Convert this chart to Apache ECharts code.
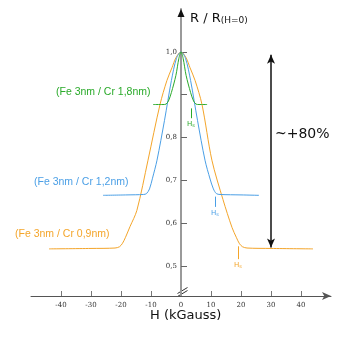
<!DOCTYPE html>
<html>
<head>
<meta charset="utf-8">
<script src="https://cdn.jsdelivr.net/npm/echarts@6/dist/echarts.min.js"></script>
<style>
  html, body { margin: 0; padding: 0; background: #fff; }
  #chart { width: 340px; height: 340px; }
</style>
</head>
<body>
<div id="chart"></div>
<script>
// Magnetoresistance R/R(H=0) of Fe/Cr multilayers versus applied field H (kGauss)

// Fe 3nm / Cr 0,9nm
const hCr09 = [-44, -30, -22, -20.5, -19.5, -18.5, -17, -14.7, -11, -7, -4.7, -3, -1.7, 0, 1.7, 3, 4.7, 7, 10.3, 14, 17, 18.5, 19.5, 20.5, 22, 30, 44];
const rCr09 = [0.540, 0.541, 0.542, 0.545, 0.553, 0.567, 0.592, 0.630, 0.747, 0.877, 0.933, 0.963, 0.986, 1.0, 0.986, 0.963, 0.933, 0.877, 0.747, 0.655, 0.590, 0.566, 0.552, 0.545, 0.542, 0.541, 0.540];

// Fe 3nm / Cr 1,2nm
const hCr12 = [-26, -18, -12.5, -11.5, -10.5, -9.5, -8, -5.5, -3.2, -1.5, 0, 1.5, 3.2, 5.5, 8, 9.7, 10.8, 11.8, 13, 20, 26];
const rCr12 = [0.665, 0.666, 0.667, 0.669, 0.680, 0.705, 0.747, 0.840, 0.933, 0.985, 1.0, 0.985, 0.933, 0.840, 0.747, 0.703, 0.680, 0.669, 0.667, 0.666, 0.665];

// Fe 3nm / Cr 1,8nm
const hCr18 = [-9.3, -6, -5, -4.2, -3.2, -1.7, -0.7, 0, 0.7, 1.7, 3.2, 4.2, 5, 6, 8.7];
const rCr18 = [0.877, 0.877, 0.878, 0.885, 0.905, 0.945, 0.985, 1.0, 0.985, 0.945, 0.905, 0.885, 0.878, 0.877, 0.877];

// Saturation fields Hs marked under each curve
const hsCr09 = 19;
const hsCr12 = 11.3;
const hsCr18 = 3.3;

// Tick positions
const xTicks = [-40, -30, -20, -10, 0, 10, 20, 30, 40];
const yTicks = [0.5, 0.6, 0.7, 0.8, 0.9, 1.0];
const yTickLabels = [0.5, 0.6, 0.7, 0.8, 1.0];

// Overall change bracket (H = 30)
const spanH = 30;
const spanTop = 0.993;
const spanBottom = 0.543;

const ORANGE = '#f4a52a';
const BLUE = '#4a9fe6';
const GREEN = '#2aaa2a';

const X_MIN = -50, X_MAX = 50;
const GRID_LEFT = 31, GRID_RIGHT = 9, GRID_TOP = 9;

function pairs(xs, ys) { return xs.map((x, i) => [x, ys[i]]); }

function hsLine(h, top, bottom, color) {
  return [
    { coord: [h, top], lineStyle: { color: color, width: 1, type: 'solid' },
      label: { show: true, position: 'end', distance: 2, color: color,
               formatter: '{h|H}{s|s}',
               rich: { h: { fontSize: 7, fontFamily: 'DejaVu Sans', color: color },
                       s: { fontSize: 5, fontFamily: 'DejaVu Sans', color: color, padding: [3, 0, 0, 0] } } } },
    { coord: [h, bottom] }
  ];
}

function curve(name, data, color, marks) {
  return {
    name: name,
    type: 'line',
    data: data,
    showSymbol: false,
    symbol: 'none',
    smooth: 0.3,
    lineStyle: { color: color, width: 1 },
    emphasis: { disabled: true },
    silent: true,
    z: 3,
    markLine: {
      silent: true,
      symbol: 'none',
      animation: false,
      lineStyle: { type: 'solid' },
      data: marks
    }
  };
}

const chart = echarts.init(document.getElementById('chart'), null, { renderer: 'canvas' });

// the vertical axis sits at H = 0, shifted in from the grid's left edge
const plotWidth = 340 - GRID_LEFT - GRID_RIGHT;
const yAxisShift = plotWidth * (0 - X_MIN) / (X_MAX - X_MIN);
const yAxisX = GRID_LEFT + yAxisShift;

const option = {
  animation: false,
  backgroundColor: '#fff',
  grid: { left: GRID_LEFT, right: GRID_RIGHT, top: GRID_TOP, bottom: 44, containLabel: false },
  xAxis: {
    type: 'value',
    min: X_MIN,
    max: X_MAX,
    axisLine: { show: true, onZero: false, symbol: ['none', 'arrow'], symbolSize: [6, 9],
                lineStyle: { color: '#555', width: 1 } },
    axisTick: { show: true, inside: true, length: 5, customValues: xTicks.filter(v => v !== 0),
                lineStyle: { color: '#777', width: 1 } },
    axisLabel: { show: true, customValues: xTicks, margin: 6, fontSize: 7,
                 fontFamily: 'DejaVu Serif', color: '#333' },
    splitLine: { show: false }
  },
  yAxis: {
    type: 'value',
    min: 0.43,
    max: 1.1,
    position: 'left',
    offset: -yAxisShift,
    axisLine: { show: true, onZero: false,
                lineStyle: { color: '#9a9a9a', width: 2 } },
    axisTick: { show: true, inside: true, length: 6, customValues: yTicks,
                lineStyle: { color: '#666', width: 1 } },
    axisLabel: { show: true, customValues: yTickLabels, margin: 4, fontSize: 7,
                 fontFamily: 'DejaVu Serif', color: '#333',
                 formatter: v => v.toFixed(1).replace('.', ',') },
    splitLine: { show: false }
  },
  series: [
    curve('Fe 3nm / Cr 0,9nm', pairs(hCr09, rCr09), ORANGE, [
      hsLine(hsCr09, 0.546, 0.516, ORANGE),
      [
        { coord: [spanH, spanTop], symbol: 'arrow', symbolSize: [6, 9],
          lineStyle: { color: '#111', width: 1.5, type: 'solid' }, label: { show: false } },
        { coord: [spanH, spanBottom], symbol: 'arrow', symbolSize: [6, 9] }
      ]
    ]),
    curve('Fe 3nm / Cr 1,2nm', pairs(hCr12, rCr12), BLUE, [
      hsLine(hsCr12, 0.662, 0.638, BLUE)
    ]),
    curve('Fe 3nm / Cr 1,8nm', pairs(hCr18, rCr18), GREEN, [
      hsLine(hsCr18, 0.868, 0.845, GREEN)
    ])
  ],
  graphic: [
    // arrow head at the top of the vertical axis
    { type: 'polygon', z: 10,
      shape: { points: [[yAxisX, GRID_TOP], [yAxisX - 3.5, GRID_TOP + 8], [yAxisX + 3.5, GRID_TOP + 8]] },
      style: { fill: '#111' } },
    { type: 'text', left: 190, top: 12, z: 10,
      style: { text: '{a|R / R}{b|(H=0)}', fill: '#111',
               rich: { a: { fontSize: 13, fontFamily: 'DejaVu Sans', fill: '#111' },
                       b: { fontSize: 9, fontFamily: 'DejaVu Sans', fill: '#111', padding: [5, 0, 0, 0] } } } },
    { type: 'text', left: 275, top: 127, z: 10,
      style: { text: '~+80%', fontSize: 14, fontFamily: 'DejaVu Sans', fill: '#111' } },
    { type: 'text', left: 56, top: 87, z: 10,
      style: { text: '(Fe 3nm / Cr 1,8nm)', fontSize: 10.5, fontFamily: 'Liberation Sans', fill: GREEN } },
    { type: 'text', left: 34, top: 177, z: 10,
      style: { text: '(Fe 3nm / Cr 1,2nm)', fontSize: 10.5, fontFamily: 'Liberation Sans', fill: BLUE } },
    { type: 'text', left: 15, top: 229, z: 10,
      style: { text: '(Fe 3nm / Cr 0,9nm)', fontSize: 10.5, fontFamily: 'Liberation Sans', fill: ORANGE } },
    { type: 'text', left: 150, top: 309, z: 10,
      style: { text: 'H (kGauss)', fontSize: 13, fontFamily: 'DejaVu Sans', fill: '#111' } },
    // axis break on the vertical axis
    { type: 'group', left: 175, top: 285, z: 10, children: [
      { type: 'polygon', shape: { points: [[0, 6], [10, 0], [10, 3], [0, 9]] },
        style: { fill: '#fff', stroke: null } },
      { type: 'line', shape: { x1: 0, y1: 6, x2: 10, y2: 0 }, style: { stroke: '#333', lineWidth: 1 } },
      { type: 'line', shape: { x1: 0, y1: 9, x2: 10, y2: 3 }, style: { stroke: '#333', lineWidth: 1 } }
    ] }
  ]
};

chart.setOption(option);
</script>
</body>
</html>
